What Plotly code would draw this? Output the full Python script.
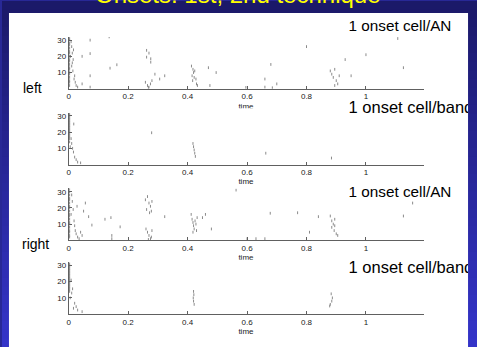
import plotly.graph_objects as go

W, H = 477, 347

# ---------------- data ----------------
title_text = "Onsets: 1st, 2nd technique"
panel_labels = ["1 onset cell/AN", "1 onset cell/band", "1 onset cell/AN", "1 onset cell/band"]
side_labels = ["left", "right"]
xtick_vals = [0, 0.2, 0.4, 0.6, 0.8, 1]
xtick_text = ["0", "0.2", "0.4", "0.6", "0.8", "1"]
ytick_vals = [10, 20, 30]
ytick_text = ["10", "20", "30"]
x_title = "time"

# left, 1 onset cell/AN
la_t = [0.003, 0.003, 0.003, 0.003, 0.003, 0.003, 0.003, 0.003, 0.003, 0.003, 0.003, 0.003, 0.003, 0.003, 0.003, 0.003, 0.003, 0.003, 0.003,
        0.008, 0.010, 0.012, 0.006, 0.015, 0.010, 0.014, 0.020, 0.018, 0.022, 0.025, 0.030, 0.012, 0.016,
        0.045, 0.045, 0.072, 0.072, 0.072, 0.072, 0.136, 0.139, 0.162,
        0.262, 0.270, 0.276, 0.276, 0.262, 0.258, 0.265, 0.270, 0.275, 0.280, 0.268,
        0.290, 0.306, 0.323,
        0.413, 0.418, 0.420, 0.415, 0.422, 0.424, 0.417, 0.428, 0.430, 0.433,
        0.470, 0.475, 0.496, 0.596,
        0.680, 0.660, 0.660, 0.700, 0.685, 0.800,
        0.880, 0.885, 0.890, 0.895, 0.900, 0.905, 0.895, 0.910,
        0.930, 0.950, 1.000, 1.107, 1.126]
la_c = [2, 4, 5, 7, 9, 10, 12, 13, 15, 17, 18, 20, 22, 23, 25, 27, 28, 30, 31,
        29, 26, 22, 20, 18, 14, 11, 8, 6, 4, 2, 1, 16, 24,
        20, 3, 30, 21.7, 8, 1, 32, 12.7, 14.8,
        23.7, 22, 18.5, 16.4, 19.5, 4, 2, 1, 3, 5, 0.8,
        9, 6, 8,
        14, 12, 10, 8, 7, 11, 5, 6, 3, 2,
        13, 2, 10, 0.8,
        15, 6, 1, 3, 0.6, 26,
        11, 9, 7, 12, 5, 3, 2, 8,
        18, 8, 21, 31, 13]

# left, 1 onset cell/band
lb_t = [0.003, 0.003, 0.003, 0.003, 0.003, 0.003, 0.003, 0.003, 0.003, 0.003, 0.003, 0.003, 0.003, 0.003, 0.003, 0.003, 0.003,
        0.017, 0.008, 0.010, 0.013, 0.016, 0.020, 0.025, 0.030, 0.040, 0.005,
        0.279, 0.418, 0.420, 0.422, 0.424, 0.426, 0.663, 0.884]
lb_c = [14, 16, 17, 18, 19, 20, 21, 22, 23, 24, 25, 26, 27, 28, 29, 30, 31,
        25, 16, 13, 10, 7.7, 4.6, 3, 1.5, 1, 11,
        19.6, 13, 11, 9, 7, 5, 7, 4]

# right, 1 onset cell/AN
ra_t = [0.003, 0.003, 0.003, 0.003, 0.003, 0.003, 0.003, 0.003, 0.003, 0.003, 0.003, 0.003, 0.003, 0.003, 0.003, 0.003, 0.003, 0.003, 0.003,
        0.010, 0.012, 0.015, 0.008, 0.018, 0.020, 0.022, 0.025, 0.030, 0.035, 0.028, 0.056, 0.050, 0.067, 0.078, 0.040, 0.045,
        0.122, 0.142, 0.145, 0.145, 0.173,
        0.258, 0.265, 0.270, 0.275, 0.262, 0.272, 0.280, 0.278,
        0.260, 0.265, 0.270, 0.275, 0.268, 0.280, 0.278,
        0.323,
        0.412, 0.415, 0.418, 0.420, 0.422, 0.425, 0.428, 0.430, 0.418, 0.432,
        0.450, 0.460, 0.480, 0.563, 0.600, 0.630, 0.660,
        0.678, 0.770, 0.810, 0.840,
        0.880, 0.885, 0.890, 0.885, 0.893, 0.900, 0.895, 0.905, 0.895,
        1.126, 1.157]
ra_c = [2, 3, 5, 6, 8, 10, 11, 13, 15, 16, 18, 20, 21, 23, 25, 26, 28, 30, 32,
        28, 24, 19, 16, 12, 9, 6, 4, 2, 1, 21, 23, 18, 14.6, 9.4, 5, 3,
        13, 14, 3, 1, 8.3,
        25, 27, 23, 21, 19, 17, 24, 18,
        7, 5, 3, 1, 0.5, 6, 2,
        14.6,
        16, 13, 11, 9, 7, 12, 10, 6, 5, 14,
        14, 16, 7, 31, 1, 1, 1,
        16.7, 17, 5, 14.6,
        15, 12, 10, 8, 6, 4, 13, 3, 9,
        15, 23]

# right, 1 onset cell/band
rb_t = [0.003, 0.003, 0.003, 0.003, 0.003, 0.003, 0.003, 0.003, 0.003, 0.003, 0.003, 0.003, 0.003, 0.003, 0.003, 0.003, 0.003, 0.003,
        0.008, 0.010, 0.013, 0.020, 0.016, 0.025, 0.030, 0.045, 0.005,
        0.420, 0.421, 0.419, 0.420, 0.422,
        0.883, 0.887, 0.885, 0.880, 0.878]
rb_c = [14, 15, 16, 17, 18, 19, 20, 21, 22, 23, 24, 25, 26, 27, 28, 29, 30, 31,
        21, 13, 15.6, 6.7, 3.6, 4.6, 2.5, 1.5, 10,
        14, 12, 10, 8, 6,
        12.5, 10, 8, 6, 5]

# ---------------- layout helpers ----------------
FONT = "Liberation Sans, Arial, sans-serif"
panel_bottoms = [88, 164, 240, 314]   # px from top
PANEL_H = 52
PX0, PX1 = 67, 424


def xd(a, b):
    return [a / W, b / W]


def yd(top, bottom):
    return [1 - bottom / H, 1 - top / H]


fig = go.Figure()
layout = {}

series = [(la_t, la_c), (lb_t, lb_c), (ra_t, ra_c), (rb_t, rb_c)]
for i, ((t, c), bot) in enumerate(zip(series, panel_bottoms), start=1):
    sfx = "" if i == 1 else str(i)
    fig.add_trace(go.Scatter(
        x=t, y=c, mode="markers", xaxis="x" + sfx, yaxis="y" + sfx,
        marker=dict(symbol="line-ns", size=2, color="#8a8a8a",
                    line=dict(width=1, color="#8a8a8a")),
        showlegend=False, hoverinfo="skip"))
    axis_common = dict(showline=True, linecolor="#606060", linewidth=1,
                       ticks="inside", ticklen=3, tickcolor="#606060",
                       tickfont=dict(size=8, color="#222", family=FONT),
                       showgrid=False, zeroline=False, fixedrange=True)
    layout["xaxis" + sfx] = dict(domain=xd(PX0, PX1), anchor="y" + sfx,
                                 range=[0, 1.196], tickvals=xtick_vals,
                                 ticktext=xtick_text, **axis_common)
    layout["yaxis" + sfx] = dict(domain=yd(bot - PANEL_H, bot), anchor="x" + sfx,
                                 range=[0, 32], tickvals=ytick_vals,
                                 ticktext=ytick_text, **axis_common)

# overlay axes for clipped texts
label_tops = [26, 108, 193, 269]
label_sizes = [15.3, 16.5, 15.3, 16.5]
fig.add_trace(go.Scatter(
    x=[348] * 4, y=label_tops, text=panel_labels, mode="text",
    textposition="middle right",
    textfont=dict(size=label_sizes, color="black", family=FONT),
    xaxis="x5", yaxis="y5", showlegend=False, hoverinfo="skip", cliponaxis=True))
layout["xaxis5"] = dict(domain=xd(7, 468), range=[7, 468], visible=False,
                        anchor="y5", fixedrange=True)
layout["yaxis5"] = dict(domain=yd(12, 347), range=[347, 12], visible=False,
                        anchor="x5", fixedrange=True)

for k, bot in enumerate(panel_bottoms):
    n = 6 + k
    top = bot + 8
    cut = bot + 19.5 if k < 3 else 347
    fig.add_trace(go.Scatter(
        x=[245], y=[bot + 18], text=[x_title], mode="text",
        textposition="middle center",
        textfont=dict(size=8, color="#222", family=FONT),
        xaxis=f"x{n}", yaxis=f"y{n}", showlegend=False, hoverinfo="skip",
        cliponaxis=True))
    layout[f"xaxis{n}"] = dict(domain=xd(200, 290), range=[200, 290], visible=False,
                               anchor=f"y{n}", fixedrange=True)
    layout[f"yaxis{n}"] = dict(domain=yd(top, cut), range=[cut, top], visible=False,
                               anchor=f"x{n}", fixedrange=True)

# background gradient + white panel
shapes = []
NB = 40
c_top = (27, 25, 105)
c_bot = (52, 52, 200)
for b in range(NB):
    f = b / (NB - 1)
    col = tuple(round(c_top[j] + (c_bot[j] - c_top[j]) * f) for j in range(3))
    shapes.append(dict(type="rect", xref="paper", yref="paper",
                       x0=0, x1=1, y0=1 - (b + 1) / NB - 0.002, y1=1 - b / NB,
                       fillcolor="rgb(%d,%d,%d)" % col, line=dict(width=0),
                       layer="below"))
shapes.append(dict(type="rect", xref="paper", yref="paper",
                   x0=7 / W, x1=468 / W, y0=0, y1=1 - 12 / H,
                   fillcolor="white", line=dict(width=0), layer="below"))

annotations = [
    dict(text=title_text, xref="paper", yref="paper", x=236.5 / W, y=1 + 7 / H,
         xanchor="center", yanchor="middle", showarrow=False,
         font=dict(size=24, color="#ffff00", family=FONT)),
    dict(text=side_labels[0], xref="paper", yref="paper", x=19 / W, y=1 - 87 / H,
         xanchor="left", yanchor="middle", showarrow=False,
         font=dict(size=14, color="black", family=FONT)),
    dict(text=side_labels[1], xref="paper", yref="paper", x=18 / W, y=1 - 244 / H,
         xanchor="left", yanchor="middle", showarrow=False,
         font=dict(size=14, color="black", family=FONT)),
]

fig.update_layout(
    width=W, height=H, margin=dict(l=0, r=0, t=0, b=0, pad=0),
    paper_bgcolor="rgb(40,40,150)", plot_bgcolor="rgba(0,0,0,0)",
    shapes=shapes, annotations=annotations, showlegend=False,
    **layout)

fig.write_html("out.html", config={"displayModeBar": False})
